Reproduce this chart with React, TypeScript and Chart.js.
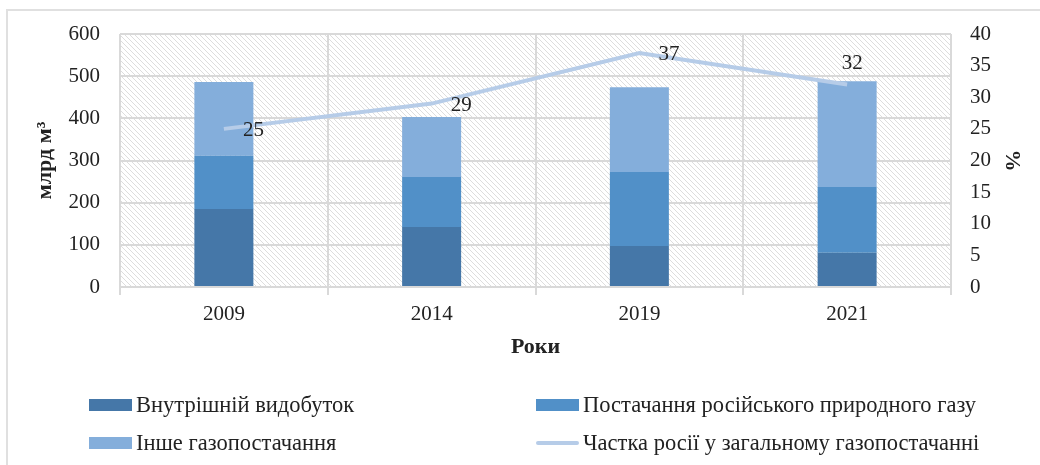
import React, { useEffect, useRef } from "react";
import { Chart, registerables } from "chart.js";

Chart.register(...registerables);

const years = ["2009", "2014", "2019", "2021"];
const domestic = [185, 142, 97, 81];
const russian = [126, 119, 176, 156];
const other = [175, 142, 201, 251];
const russiaShare = [25, 29, 37, 32];
const labelPlacement = ["right", "right", "right", "above"];

const seriesNames = [
  "Внутрішній видобуток",
  "Постачання російського природного газу",
  "Інше газопостачання",
  "Частка росії у загальному газопостачанні",
];

const FONT = "'Liberation Serif', 'Times New Roman', serif";
const TEXT = "#222222";
const GRID = "#d9d9d9";
const C_DARK = "#4577a8";
const C_MED = "#5190c8";
const C_LIGHT = "#84aedb";
const C_LINE = "#b6cce8";

const bgPlugin = {
  id: "bgHatch",
  beforeDraw(chart: any) {
    const { ctx, chartArea } = chart;
    const { left, top, right, bottom } = chartArea;
    ctx.save();
    ctx.strokeStyle = "#e0e0e0";
    ctx.lineWidth = 2;
    ctx.beginPath();
    ctx.moveTo(7, 470);
    ctx.lineTo(7, 10);
    ctx.lineTo(1045, 10);
    ctx.stroke();
    const s = 5;
    const p = document.createElement("canvas");
    p.width = s;
    p.height = s;
    const pc = p.getContext("2d")!;
    pc.fillStyle = "#ffffff";
    pc.fillRect(0, 0, s, s);
    pc.strokeStyle = "#dddddd";
    pc.lineWidth = 1;
    pc.beginPath();
    pc.moveTo(0, 0);
    pc.lineTo(s, s);
    pc.moveTo(-1, s - 1);
    pc.lineTo(1, s + 1);
    pc.moveTo(s - 1, -1);
    pc.lineTo(s + 1, 1);
    pc.stroke();
    const pat = ctx.createPattern(p, "repeat");
    if (pat) {
      ctx.fillStyle = pat;
      ctx.fillRect(left, top, right - left, bottom - top);
    }
    ctx.restore();
  },
};

const labelPlugin = {
  id: "lineLabels",
  afterDatasetsDraw(chart: any) {
    const { ctx } = chart;
    const idx = chart.data.datasets.findIndex((d: any) => d.type === "line");
    if (idx < 0) return;
    const meta = chart.getDatasetMeta(idx);
    const data = chart.data.datasets[idx].data;
    ctx.save();
    ctx.font = `21px ${FONT}`;
    ctx.fillStyle = TEXT;
    meta.data.forEach((pt: any, i: number) => {
      const txt = String(data[i]);
      if (labelPlacement[i] === "above") {
        ctx.textAlign = "center";
        ctx.textBaseline = "middle";
        ctx.fillText(txt, pt.x + 5, pt.y - 21);
      } else {
        ctx.textAlign = "left";
        ctx.textBaseline = "middle";
        ctx.fillText(txt, pt.x + 19, pt.y + 2);
      }
    });
    ctx.restore();
  },
};

const legendPlugin = {
  id: "gridLegend",
  afterDraw(chart: any) {
    const { ctx } = chart;
    const ds = chart.data.datasets;
    const slots = [
      { x: 89, y: 405 },
      { x: 536, y: 405 },
      { x: 89, y: 443 },
      { x: 536, y: 443 },
    ];
    const order = [1, 2, 3, 0];
    ctx.save();
    ctx.font = `22.5px ${FONT}`;
    ctx.textBaseline = "middle";
    ctx.textAlign = "left";
    order.forEach((di, k) => {
      const d = ds[di];
      const { x, y } = slots[k];
      if (d.type === "line") {
        ctx.strokeStyle = d.borderColor;
        ctx.lineWidth = 4;
        ctx.lineCap = "round";
        ctx.beginPath();
        ctx.moveTo(x + 2, y);
        ctx.lineTo(x + 41, y);
        ctx.stroke();
      } else {
        ctx.fillStyle = d.backgroundColor;
        ctx.fillRect(x, y - 6, 43, 12);
      }
      ctx.fillStyle = TEXT;
      ctx.fillText(d.label, x + 47, y + 1);
    });
    ctx.restore();
  },
};

export default function App() {
  const ref = useRef<HTMLCanvasElement | null>(null);

  useEffect(() => {
    if (!ref.current) return;
    const tickFont = { family: FONT, size: 21 };
    const titleFont = { family: FONT, size: 22, weight: "bold" as const };
    const chart = new Chart(ref.current, {
      type: "bar",
      data: {
        labels: years,
        datasets: [
          {
            type: "line" as const,
            label: seriesNames[3],
            data: russiaShare,
            yAxisID: "y1",
            borderColor: C_LINE,
            backgroundColor: C_LINE,
            borderWidth: 4,
            pointRadius: 0,
            tension: 0,
            order: 0,
          },
          {
            type: "bar" as const,
            label: seriesNames[0],
            data: domestic,
            backgroundColor: C_DARK,
            yAxisID: "y",
            order: 1,
          },
          {
            type: "bar" as const,
            label: seriesNames[1],
            data: russian,
            backgroundColor: C_MED,
            yAxisID: "y",
            order: 1,
          },
          {
            type: "bar" as const,
            label: seriesNames[2],
            data: other,
            backgroundColor: C_LIGHT,
            yAxisID: "y",
            order: 1,
          },
        ] as any,
      },
      options: {
        responsive: false,
        animation: false,
        devicePixelRatio: 1,
        layout: { padding: { top: 34, bottom: 100, left: 0, right: 0 } },
        datasets: {
          bar: { categoryPercentage: 1, barPercentage: 0.284 },
        } as any,
        plugins: {
          legend: { display: false },
          tooltip: { enabled: false },
        },
        scales: {
          x: {
            type: "category",
            stacked: true,
            offset: true,
            grid: {
              offset: true,
              color: GRID,
              lineWidth: 2,
              drawTicks: true,
              tickLength: 8,
              tickColor: GRID,
            },
            border: { display: false },
            ticks: { font: tickFont, color: TEXT, padding: 7, maxRotation: 0 },
            title: {
              display: true,
              text: "Роки",
              font: titleFont,
              color: TEXT,
              padding: { top: 0, bottom: 4 },
            },
            afterFit(s: any) {
              s.height = 78;
            },
          },
          y: {
            type: "linear",
            position: "left",
            stacked: true,
            min: 0,
            max: 600,
            ticks: { stepSize: 100, font: tickFont, color: TEXT, padding: 20 },
            grid: { color: GRID, lineWidth: 2, drawTicks: false },
            border: { display: false },
            title: {
              display: true,
              text: "млрд м³",
              font: titleFont,
              color: TEXT,
              padding: { top: 32, bottom: 0 },
            },
            afterFit(s: any) {
              s.width = 120;
            },
          },
          y1: {
            type: "linear",
            position: "right",
            min: 0,
            max: 40,
            ticks: { stepSize: 5, font: tickFont, color: TEXT, padding: 19 },
            grid: { drawOnChartArea: false, drawTicks: false },
            border: { display: false },
            title: {
              display: true,
              text: "%",
              font: titleFont,
              color: TEXT,
              padding: { top: 15, bottom: 0 },
            },
            afterFit(s: any) {
              s.width = 89;
            },
          },
        },
      } as any,
      plugins: [bgPlugin, labelPlugin, legendPlugin],
    });
    return () => chart.destroy();
  }, []);

  return (
    <div style={{ position: "absolute", left: 0, top: 0, width: 1040, height: 465, background: "#fff" }}>
      <canvas ref={ref} width={1040} height={465} style={{ display: "block" }} />
    </div>
  );
}
